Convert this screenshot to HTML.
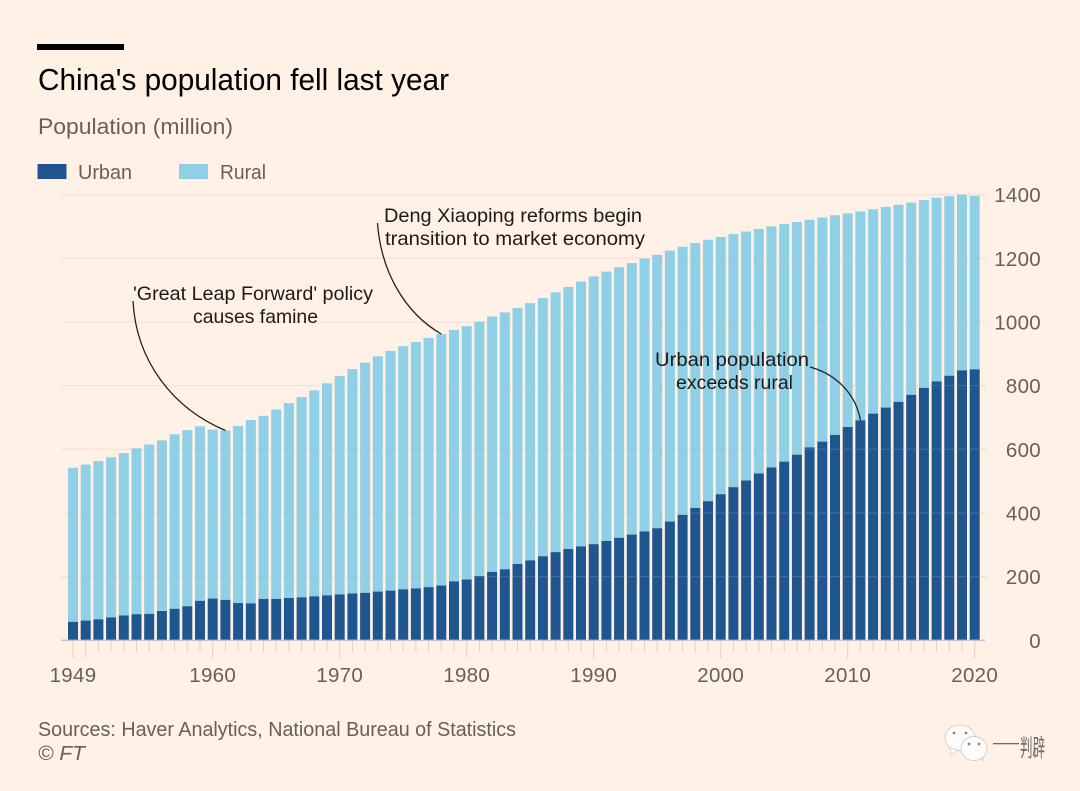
<!DOCTYPE html>
<html lang="en">
<head>
<meta charset="utf-8">
<title>China's population fell last year</title>
<style>
html,body{margin:0;padding:0;background:#fff1e5;}
svg{display:block;font-family:"Liberation Sans","Noto Sans CJK SC",sans-serif;}
.ax{fill:#66605c;font-size:20.5px;letter-spacing:.3px;}
.ann{fill:#1d1a18;font-size:19.5px;}
</style>
</head>
<body>
<svg id="chart" xmlns="http://www.w3.org/2000/svg" width="1080" height="791" viewBox="0 0 1080 791">
  <rect x="0" y="0" width="1080" height="791" fill="#fff1e5"/>
  <rect x="37" y="44" width="87" height="6" fill="#000"/>
  <text x="38" y="90" font-size="30.5" fill="#000" textLength="411" lengthAdjust="spacingAndGlyphs">China's population fell last year</text>
  <text x="38" y="134" font-size="22.5" fill="#66605c" textLength="195" lengthAdjust="spacingAndGlyphs">Population (million)</text>

  <g>
    <rect x="37.5" y="164" width="29" height="15" fill="#20568f"/>
    <text x="78" y="179" font-size="20" fill="#66605c" textLength="54" lengthAdjust="spacingAndGlyphs">Urban</text>
    <rect x="179" y="164" width="29" height="15" fill="#8fd0e7"/>
    <text x="220" y="179" font-size="20" fill="#66605c" textLength="46" lengthAdjust="spacingAndGlyphs">Rural</text>
  </g>

  <g id="bars"></g>
  <g id="grid"></g>
  <g id="xaxis"></g>
  <g id="yaxis"></g>
  <g id="annotations"></g>

  <text class="ann" x="133" y="300" textLength="240" lengthAdjust="spacingAndGlyphs">'Great Leap Forward' policy</text>
  <text class="ann" x="193" y="323" textLength="125" lengthAdjust="spacingAndGlyphs">causes famine</text>
  <text class="ann" x="384" y="222" textLength="258" lengthAdjust="spacingAndGlyphs">Deng Xiaoping reforms begin</text>
  <text class="ann" x="385" y="245" textLength="260" lengthAdjust="spacingAndGlyphs">transition to market economy</text>
  <text class="ann" x="655" y="366" textLength="154" lengthAdjust="spacingAndGlyphs">Urban population</text>
  <text class="ann" x="676" y="389" textLength="117" lengthAdjust="spacingAndGlyphs">exceeds rural</text>

  <text x="38" y="736" font-size="20" fill="#66605c" textLength="478" lengthAdjust="spacingAndGlyphs">Sources: Haver Analytics, National Bureau of Statistics</text>
  <text x="38" y="760" font-size="20" font-style="italic" fill="#66605c" textLength="47" lengthAdjust="spacingAndGlyphs">© FT</text>

  <g>
    <g fill="#fdfcfb" stroke="#c9c4bf" stroke-width="0.7">
      <ellipse cx="960" cy="738" rx="15" ry="13"/>
      <path d="M950 748 L951 755 L958 750 Z"/>
      <path d="M978 755 L983 760 L983 753 Z"/>
      <ellipse cx="974" cy="748.5" rx="13" ry="12"/>
    </g>
    <g fill="#8a8580">
      <circle cx="954" cy="733" r="1.4"/><circle cx="966" cy="733" r="1.4"/>
      <circle cx="969" cy="744" r="1.4"/><circle cx="979" cy="744" r="1.4"/>
    </g>
    <rect x="993" y="743" width="26" height="1.3" fill="#6f6a65"/>
    <text x="1020" y="756" font-size="24" fill="#6f6a65" textLength="25" lengthAdjust="spacingAndGlyphs">判辟</text>
  </g>
</svg>
<script>
const years = [1949,1950,1951,1952,1953,1954,1955,1956,1957,1958,1959,1960,1961,1962,1963,1964,1965,1966,1967,1968,1969,1970,1971,1972,1973,1974,1975,1976,1977,1978,1979,1980,1981,1982,1983,1984,1985,1986,1987,1988,1989,1990,1991,1992,1993,1994,1995,1996,1997,1998,1999,2000,2001,2002,2003,2004,2005,2006,2007,2008,2009,2010,2011,2012,2013,2014,2015,2016,2017,2018,2019,2020];
const urban = [58,62,66,72,78,82,83,92,99,107,124,131,127,117,116,130,130,133,135,138,141,144,147,149,153,156,160,163,167,172,185,191,202,215,223,240,251,264,277,287,295,302,312,322,332,342,352,373,394,416,437,459,481,502,524,543,561,583,606,624,645,670,691,712,731,749,771,793,813,831,848,851];
const rural = [484,490,497,503,510,521,532,536,548,553,548,531,532,556,576,575,595,612,629,647,666,686,705,723,739,753,764,774,783,790,790,796,799,802,807,804,808,811,816,823,832,841,846,850,853,857,859,851,842,832,821,808,795,782,768,757,747,731,715,704,690,671,656,642,630,619,604,590,577,564,552,545];
const yTicks = [0,200,400,600,800,1000,1200,1400];
const xLabels = [1949,1960,1970,1980,1990,2000,2010,2020];
const noteYears = [1961,1978,2011];

const NS = 'http://www.w3.org/2000/svg';
const x = year => 73 + (year - 1949) * 12.7;
const y = value => 640.3 - value * 0.31836;
const barWidth = 10;

function make(tag, parent, attrs) {
  const el = document.createElementNS(NS, tag);
  for (const k in attrs) el.setAttribute(k, attrs[k]);
  parent.appendChild(el);
  return el;
}

const barsG = document.getElementById('bars');
years.forEach((yr, i) => {
  const total = urban[i] + rural[i];
  const r = make('rect', barsG, {x: x(yr) - barWidth / 2, y: y(total), width: barWidth, height: y(urban[i]) - y(total), fill: '#8fd0e7'});
  
  
  const u = make('rect', barsG, {x: x(yr) - barWidth / 2, y: y(urban[i]), width: barWidth, height: y(0) - y(urban[i]), fill: '#20568f'});
  
  
});

const gridG = document.getElementById('grid');
const yG = document.getElementById('yaxis');
yTicks.forEach(v => {
  const isBase = v === 0;
  const l = make('line', gridG, {x1: 61, x2: isBase ? 985 : 987, y1: y(v), y2: y(v), stroke: isBase ? '#c6c3c4' : '#bdb3aa', 'stroke-opacity': isBase ? 1 : 0.25, 'stroke-width': isBase ? 1.4 : 1});
  
  
  const t = make('text', yG, {x: 1041, y: y(v) + 7.5, 'text-anchor': 'end', class: 'ax'});
  
  
  t.textContent = v;
});

const xG = document.getElementById('xaxis');
years.forEach(yr => {
  const long = yr % 10 === 0 || yr === 1949;
  const t = make('line', xG, {x1: x(yr), x2: x(yr), y1: 641, y2: long ? 658 : 652, stroke: '#dad3cd', 'stroke-width': 1});
  
  
});
xLabels.forEach(yr => {
  const t = make('text', xG, {x: x(yr), y: 682, 'text-anchor': 'middle', class: 'ax'});
  
  
  t.textContent = yr;
});

const annG = document.getElementById('annotations');
function leader(name, start, c1, c2, end) {
  const p = make('path', annG, {d: `M${start} C${c1} ${c2} ${end}`, fill: 'none', stroke: '#26221f', 'stroke-width': 1.3});
  
  
}
const idx = yr => years.indexOf(yr);
const topOf = yr => y(urban[idx(yr)] + rural[idx(yr)]);
leader('leader-famine', '133,301', '136,360', '172,408', `${x(noteYears[0])},${topOf(noteYears[0])}`);
leader('leader-reform', '377.5,223', '381,272', '405,313', `${x(noteYears[1])},${topOf(noteYears[1])}`);
leader('leader-urban', '810,367', '836,374', '856,394', `${x(noteYears[2])},${y(urban[idx(noteYears[2])])}`);
</script>
</body>
</html>
